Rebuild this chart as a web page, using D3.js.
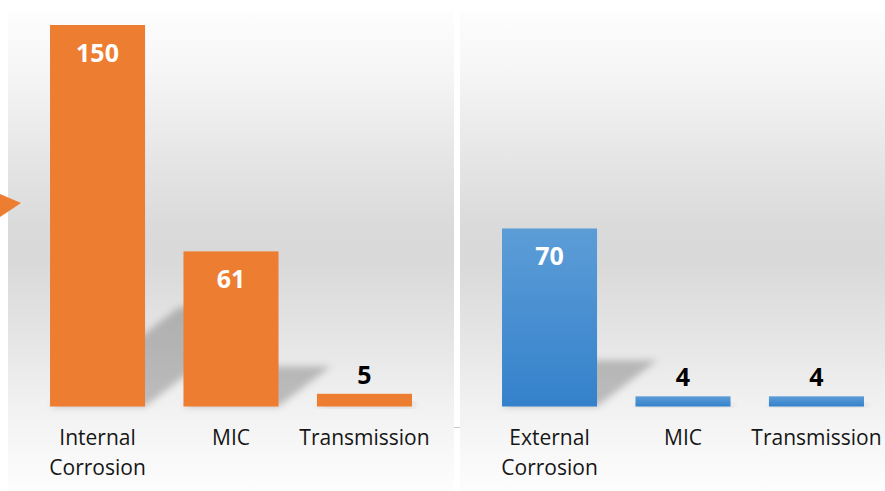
<!DOCTYPE html>
<html>
<head>
<meta charset="utf-8">
<script src="https://cdn.jsdelivr.net/npm/d3@7"></script>
<style>
  html, body { margin: 0; padding: 0; background: #ffffff; }
  svg { display: block; }
</style>
</head>
<body>
<svg id="chart" width="885" height="491"></svg>
<script>
// ---- data ----
const leftCategories = [["Internal", "Corrosion"], ["MIC"], ["Transmission"]];
const leftValues = [150, 61, 5];
const rightCategories = [["External", "Corrosion"], ["MIC"], ["Transmission"]];
const rightValues = [70, 4, 4];

const W = 885, H = 491;
const svg = d3.select("#chart");
const defs = svg.append("defs");

// background gradient
const bg = defs.append("linearGradient").attr("id", "bgGrad")
  .attr("x1", 0).attr("y1", 0).attr("x2", 0).attr("y2", 1);
[[0, "#fdfdfd"], [0.12, "#f6f6f6"], [0.3, "#e6e6e6"], [0.45, "#dadada"], [0.52, "#d9d9d9"],
 [0.68, "#e5e5e5"], [0.82, "#f1f1f1"], [1, "#fdfdfd"]]
  .forEach(([o, c]) => bg.append("stop").attr("offset", o).attr("stop-color", c));

const blue = defs.append("linearGradient").attr("id", "blueGrad")
  .attr("x1", 0).attr("y1", 0).attr("x2", 0).attr("y2", 1);
blue.append("stop").attr("offset", 0).attr("stop-color", "#5c9dd7");
blue.append("stop").attr("offset", 1).attr("stop-color", "#3481cb");

const blur = defs.append("filter").attr("id", "shadowBlur")
  .attr("x", "-50%").attr("y", "-50%").attr("width", "200%").attr("height", "200%");
blur.append("feGaussianBlur").attr("stdDeviation", 3.5);

// panels
svg.append("rect").attr("x", 8).attr("y", 12).attr("width", 446).attr("height", H - 12)
  .attr("fill", "url(#bgGrad)");
svg.append("rect").attr("x", 460).attr("y", 12).attr("width", W - 460).attr("height", H - 12)
  .attr("fill", "url(#bgGrad)");
svg.append("line").attr("x1", 454).attr("x2", 460).attr("y1", 427.5).attr("y2", 427.5)
  .attr("stroke", "#c8c8c8").attr("stroke-width", 1);

// triangle marker
svg.append("polygon").attr("points", "0,194 21,203 0,217").attr("fill", "#ED7D31");

const y = d3.scaleLinear().domain([0, 150]).range([406.5, 25]);

function panel(cats, vals, range, fill) {
  const idx = d3.range(vals.length);
  const x = d3.scaleBand().domain(idx).range(range).paddingInner(0.288).paddingOuter(0.144);
  const g = svg.append("g");
  const yb = y(0);

  // perspective shadows
  g.selectAll("polygon.sh").data(idx).join("polygon")
    .attr("class", "sh")
    .attr("points", i => {
      const h = yb - y(vals[i]);
      const dy = 0.26 * h, dx = 1.3 * dy;
      const x0 = x(i), x1 = x(i) + x.bandwidth();
      return [[x0, yb], [x1, yb], [x1 + dx, yb - dy], [x0 + dx, yb - dy]].join(" ");
    })
    .attr("fill", "#000").attr("fill-opacity", 0.22)
    .attr("filter", "url(#shadowBlur)");

  // bars
  g.selectAll("rect.bar").data(idx).join("rect")
    .attr("class", "bar")
    .attr("x", i => x(i)).attr("width", x.bandwidth())
    .attr("y", i => y(vals[i])).attr("height", i => yb - y(vals[i]))
    .attr("fill", fill);

  // value labels
  g.selectAll("text.val").data(idx).join("text")
    .attr("class", "val")
    .attr("x", i => x(i) + x.bandwidth() / 2)
    .attr("y", i => vals[i] >= 20 ? y(vals[i]) + 37 : y(vals[i]) - 10)
    .attr("text-anchor", "middle")
    .attr("font-family", "'Open Sans', sans-serif")
    .attr("font-weight", "bold")
    .attr("font-size", 25)
    .attr("fill", i => vals[i] >= 20 ? "#ffffff" : "#000000")
    .text(i => vals[i]);

  // category labels
  const cl = g.selectAll("text.cat").data(idx).join("text")
    .attr("class", "cat")
    .attr("text-anchor", "middle")
    .attr("font-family", "'Open Sans', sans-serif")
    .attr("font-size", 21)
    .attr("fill", "#161616");
  cl.each(function (i) {
    const t = d3.select(this);
    cats[i].forEach((line, k) => {
      t.append("tspan")
        .attr("x", x(i) + x.bandwidth() / 2)
        .attr("y", 445 + k * 30)
        .text(line);
    });
  });
}

panel(leftCategories, leftValues, [30.8, 431.2], "#ED7D31");
panel(rightCategories, rightValues, [482.8, 883.2], "url(#blueGrad)");
</script>
</body>
</html>
